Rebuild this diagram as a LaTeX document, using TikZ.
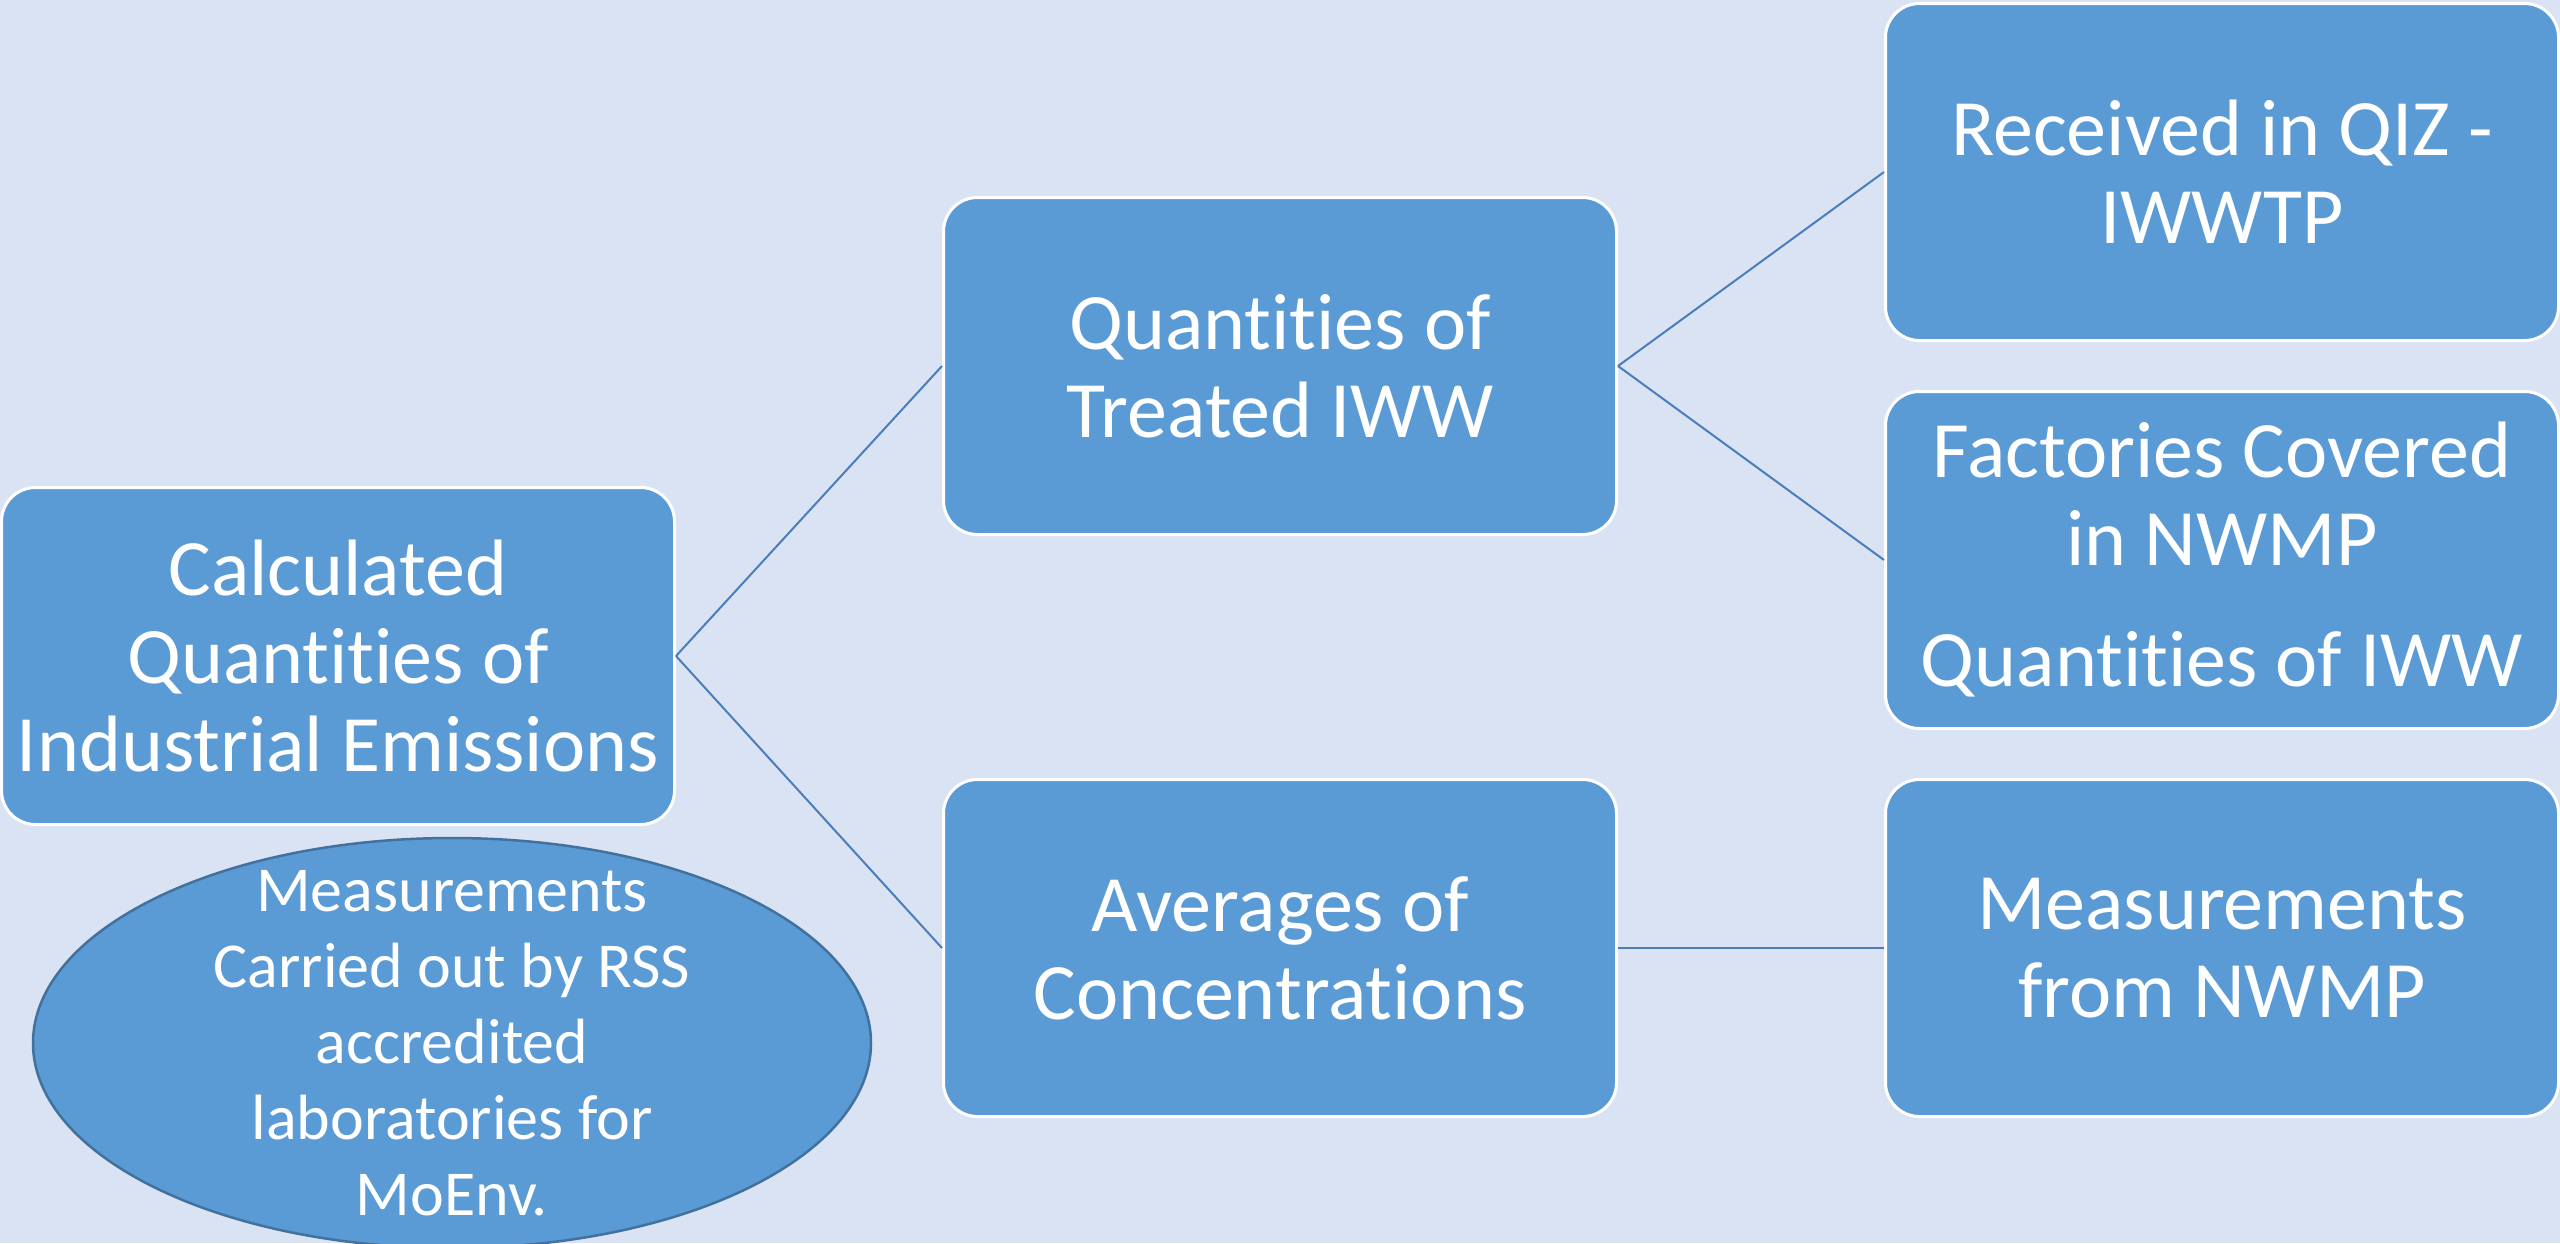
\documentclass[tikz,border=0pt]{standalone}
\usepackage{fontspec}
\setmainfont{Carlito}[Ligatures=NoCommon]
\usetikzlibrary{shapes.geometric}
\definecolor{bgc}{HTML}{DAE3F3}
\definecolor{boxc}{HTML}{5B9BD5}
\definecolor{linec}{HTML}{4A7EBB}
\definecolor{ellc}{HTML}{41719C}
\tikzset{
  card/.style={rectangle, rounded corners=34pt, fill=boxc, draw=white, line width=3pt,
    minimum width=673pt, minimum height=337pt, inner sep=0pt, align=center,
    text=white, font=\fontsize{80}{88}\selectfont},
  link/.style={draw=linec, line width=2pt},
  oval/.style={ellipse, fill=boxc, draw=ellc, line width=2.5pt,
    minimum width=838pt, minimum height=410pt, inner sep=0pt},
  ovaltext/.style={inner sep=0pt, align=center,
    text=white, font=\fontsize{64}{76}\selectfont}
}
\begin{document}
\begin{tikzpicture}[x=1pt,y=-1pt]
\fill[bgc] (0,0) rectangle (2560,1243);
\useasboundingbox (0,0) rectangle (2560,1243);
\node[card] (root) at (338,656) {Calculated\\Quantities of\\Industrial Emissions};
\node[card] (treated) at (1280,366) {Quantities of\\Treated IWW};
\node[card] (avg) at (1280,948) {Averages of\\Concentrations};
\node[card] (recv) at (2222,172) {Received in QIZ -\\IWWTP};
\node[card] (fact) at (2222,560) {Factories Covered\\in NWMP\\[33pt]Quantities of IWW};
\node[card] (nwmp) at (2222,948) {Measurements\\from NWMP};
\node[oval] (lab) at (452,1043) {};
\node[ovaltext] (labtext) at (lab.center) {Measurements\\Carried out by RSS\\accredited\\laboratories for\\MoEnv.};
\draw[link] (root.east) -- (treated.west);
\draw[link] (root.east) -- (avg.west);
\draw[link] (treated.east) -- (recv.west);
\draw[link] (treated.east) -- (fact.west);
\draw[link] (avg.east) -- (nwmp.west);
\end{tikzpicture}
\end{document}
